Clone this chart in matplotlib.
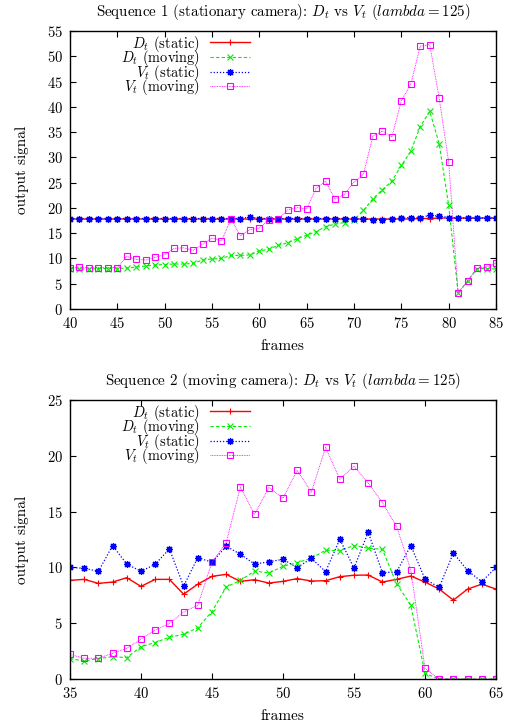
import matplotlib
matplotlib.use('Agg')
import matplotlib.pyplot as plt

plt.rcParams['font.family'] = 'serif'
plt.rcParams['font.serif'] = ['cmr10', 'DejaVu Serif']
plt.rcParams['mathtext.fontset'] = 'cm'
plt.rcParams['axes.formatter.use_mathtext'] = True
plt.rcParams['font.size'] = 10.5

# sequence 1 (stationary camera), frames 40..85
frames1 = list(range(40, 86))
d_static1 = [17.8] * 37 + [17.9, 17.9, 18.0, 18.0, 18.0, 18.0, 18.0, 18.0, 18.0]
d_moving1 = [8.0, 7.9, 7.9, 8.0, 8.0, 8.0, 8.1, 8.3, 8.5, 8.7,
             8.8, 8.9, 8.9, 9.0, 9.7, 9.9, 10.0, 10.6, 10.6, 10.7,
             11.5, 11.8, 12.6, 13.1, 13.9, 14.6, 15.3, 16.3, 16.8, 17.1,
             17.6, 19.5, 21.8, 23.6, 25.3, 28.4, 31.2, 36.1, 39.1, 32.7,
             20.5, 3.2, 5.5, 8.0, 8.0, 7.9]
v_static1 = [17.9] * 19 + [18.2] + [17.9] * 10 + [17.9, 17.8, 17.7, 17.7, 17.8,
             18.0, 18.1, 18.1, 18.5, 18.4, 18.1, 18.0, 18.0, 18.0, 18.0, 18.0]
v_moving1 = [8.1, 8.3, 8.1, 8.2, 8.2, 8.2, 10.4, 9.8, 9.7, 10.2,
             10.75, 12.0, 12.1, 11.6, 12.8, 14.05, 13.45, 17.8, 14.5, 15.7,
             16.0, 17.7, 17.8, 19.6, 20.05, 19.8, 23.9, 25.3, 21.7, 22.7,
             25.1, 26.7, 34.2, 35.2, 34.0, 41.2, 44.5, 52.0, 52.3, 41.7,
             29.1, 3.2, 5.5, 8.05, 8.3, 9.1]

# sequence 2 (moving camera), frames 35..65
frames2 = list(range(35, 66))
d_static2 = [8.84, 8.93, 8.57, 8.69, 9.08, 8.3, 8.93, 8.93, 7.6, 8.5,
             9.2, 9.38, 8.75, 8.9, 8.6, 8.75, 9.0, 8.78, 8.81, 9.17,
             9.3, 9.32, 8.69, 8.93, 9.23, 8.69, 8.06, 7.07, 8.06, 8.5, 8.06]
d_moving2 = [1.83, 1.62, 1.83, 2.0, 1.92, 2.9, 3.27, 3.75, 4.0, 4.6,
             6.05, 8.24, 8.84, 9.68, 9.5, 10.1, 10.43, 10.82, 11.54, 11.5,
             11.96, 11.72, 11.63, 8.54, 6.62, 0.5, 0, 0, 0, 0, 0]
v_static2 = [10.0, 9.92, 9.65, 11.96, 10.3, 9.65, 10.28, 11.66, 8.33, 10.88,
             10.46, 11.9, 11.18, 10.3, 10.5, 10.73, 9.98, 10.82, 9.62, 12.53,
             9.95, 13.16, 9.53, 9.6, 11.96, 8.96, 8.21, 11.3, 9.71, 8.72, 10.0]
v_moving2 = [2.2, 1.86, 1.86, 2.3, 2.75, 3.57, 4.38, 4.98, 6.0, 6.62,
             10.46, 12.23, 17.2, 14.75, 17.15, 16.2, 18.7, 16.75, 20.75, 17.9,
             19.07, 17.55, 15.8, 13.67, 9.77, 0.96, 0, 0, 0, 0, 0]

labels = ['$D_t$ (static)', '$D_t$ (moving)', '$V_t$ (static)', '$V_t$ (moving)']
titles = ['Sequence 1 (stationary camera): $D_t$ vs $V_t$ ($lambda = 125$)',
          'Sequence 2 (moving camera): $D_t$ vs $V_t$ ($lambda = 125$)']

fig = plt.figure(figsize=(5.15, 7.26), dpi=100)
ax1 = fig.add_axes([0.1359, 0.5744, 0.8272, 0.3829])
ax2 = fig.add_axes([0.1359, 0.0647, 0.8272, 0.3843])


def draw(ax, x, ds, dm, vs, vm, xlim, ylim, title):
    ax.plot(x, ds, color='#ff0000', ls='-', lw=1.0, marker='+', ms=5, mew=0.8, label=labels[0])
    ax.plot(x, dm, color='#00ee00', ls=(0, (3, 2)), lw=0.8, marker='x', ms=4, mew=0.8, label=labels[1])
    ax.plot(x, vs, color='#0000ff', ls=(0, (1, 1.5)), lw=0.9, marker=(8, 2, 0), ms=5, mew=0.9, label=labels[2])
    ax.plot(x, vm, color='#ff00ff', ls=(0, (1, 1)), lw=0.6, marker='s', ms=4.5, mfc='none', mew=0.8, label=labels[3])
    ax.set_xlim(*xlim)
    ax.set_ylim(*ylim)
    ax.set_xticks(range(xlim[0], xlim[1] + 1, 5))
    ax.set_yticks(range(ylim[0], ylim[1] + 1, 5))
    ax.tick_params(direction='in', top=True, right=True, length=4, width=0.8,
                   pad=5, labelsize=10.5)
    for s in ax.spines.values():
        s.set_linewidth(1.0)
    ax.set_title(title, pad=11, fontsize=10.8)
    ax.set_xlabel('frames', labelpad=6, fontsize=11)
    ax.set_ylabel('output signal', labelpad=13, fontsize=11)
    ax.legend(loc='upper right', bbox_to_anchor=(0.444, 1.022), frameon=False,
              markerfirst=False, numpoints=1, handlelength=2.8, fontsize=10.4,
              handletextpad=0.7, labelspacing=-0.38, borderaxespad=0.2)


draw(ax1, frames1, d_static1, d_moving1, v_static1, v_moving1, (40, 85), (0, 55), titles[0])
draw(ax2, frames2, d_static2, d_moving2, v_static2, v_moving2, (35, 65), (0, 25), titles[1])

fig.savefig('out.png', dpi=100)
